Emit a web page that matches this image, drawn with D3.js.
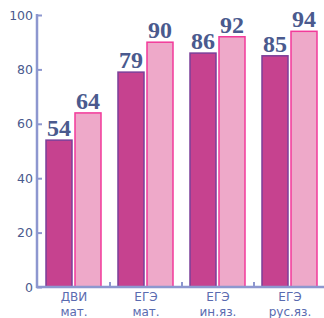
<!DOCTYPE html>
<html>
<head>
<meta charset="UTF-8">
<script src="https://d3js.org/d3.v7.min.js"></script>
<style>
    body { margin: 0; background: #fff; }
</style>
</head>
<body>
<script>
    // data
    const categories = [["ДВИ", "мат."], ["ЕГЭ", "мат."], ["ЕГЭ", "ин.яз."], ["ЕГЭ", "рус.яз."]];
    const series = ["dark", "light"];
    const darkValues = [54, 79, 86, 85];
    const lightValues = [64, 90, 92, 94];
    const yTicks = [0, 20, 40, 60, 80, 100];

    const width = 324, height = 318;
    const svg = d3.select("body").append("svg").attr("width", width).attr("height", height);

    const y = d3.scaleLinear().domain([0, 100]).range([287, 15]);
    const x0 = d3.scaleBand().domain(d3.range(categories.length)).range([38, 326]);
    const x1 = d3.scaleBand().domain(series).range([8, 63]).paddingInner(0.1034);

    const fills = {dark: "#c6428f", light: "#eea9c9"};
    const strokes = {dark: "#7b3f99", light: "#f23a9a"};
    const axisColor = "#8d97cf";

    const rows = categories.map((c, i) => ({i, dark: darkValues[i], light: lightValues[i]}));

    const g = svg.selectAll("g.grp").data(rows).join("g")
        .attr("class", "grp")
        .attr("transform", d => `translate(${x0(d.i)},0)`);

    g.selectAll("rect").data(d => series.map(s => ({s, v: d[s]}))).join("rect")
        .attr("x", d => x1(d.s))
        .attr("y", d => y(d.v))
        .attr("width", x1.bandwidth())
        .attr("height", d => y(0) - y(d.v))
        .attr("fill", d => fills[d.s])
        .attr("stroke", d => strokes[d.s])
        .attr("stroke-width", 1.5);

    g.selectAll("text.val").data(d => series.map(s => ({s, v: d[s]}))).join("text")
        .attr("class", "val")
        .attr("x", d => x1(d.s) + x1.bandwidth() / 2)
        .attr("y", d => y(d.v) - 4)
        .attr("text-anchor", "middle")
        .attr("font-family", "Liberation Serif, serif")
        .attr("font-weight", "bold")
        .attr("font-size", 24)
        .attr("fill", "#4a5a8e")
        .text(d => d.v);

    // y axis
    const yAxis = d3.axisRight(y).tickValues(yTicks).tickSize(5).tickFormat("");
    const ya = svg.append("g").attr("transform", "translate(37,0)").call(yAxis);
    ya.select(".domain").remove();
    ya.selectAll(".tick line").attr("stroke", axisColor).attr("stroke-width", 2);
    svg.append("line").attr("x1", 37).attr("x2", 37).attr("y1", y(100) - 1).attr("y2", y(0) + 1)
        .attr("stroke", axisColor).attr("stroke-width", 2.5);
    svg.append("g").selectAll("text").data(yTicks).join("text")
        .attr("x", 33).attr("y", d => y(d) + 4.5)
        .attr("text-anchor", "end")
        .attr("font-family", "DejaVu Sans, sans-serif")
        .attr("font-size", 12.5)
        .attr("fill", "#4a5a8e")
        .text(d => d);

    // x axis
    svg.append("line").attr("x1", 36).attr("x2", width).attr("y1", y(0)).attr("y2", y(0))
        .attr("stroke", axisColor).attr("stroke-width", 2.5);
    svg.append("g").selectAll("line").data(d3.range(1, categories.length + 1)).join("line")
        .attr("x1", i => x0(i - 1) + x0.bandwidth()).attr("x2", i => x0(i - 1) + x0.bandwidth())
        .attr("y1", y(0)).attr("y2", y(0) - 5)
        .attr("stroke", axisColor).attr("stroke-width", 2);

    const lab = svg.append("g").selectAll("text").data(categories).join("text")
        .attr("text-anchor", "middle")
        .attr("font-family", "DejaVu Sans, sans-serif")
        .attr("font-size", 12)
        .attr("fill", "#5a6bb0");
    lab.each(function(c, i) {
        const t = d3.select(this);
        c.forEach((line, k) => {
            t.append("tspan")
                .attr("x", x0(i) + x0.bandwidth() / 2)
                .attr("y", 300.5 + k * 15.5)
                .text(line);
        });
    });
</script>
</body>
</html>
